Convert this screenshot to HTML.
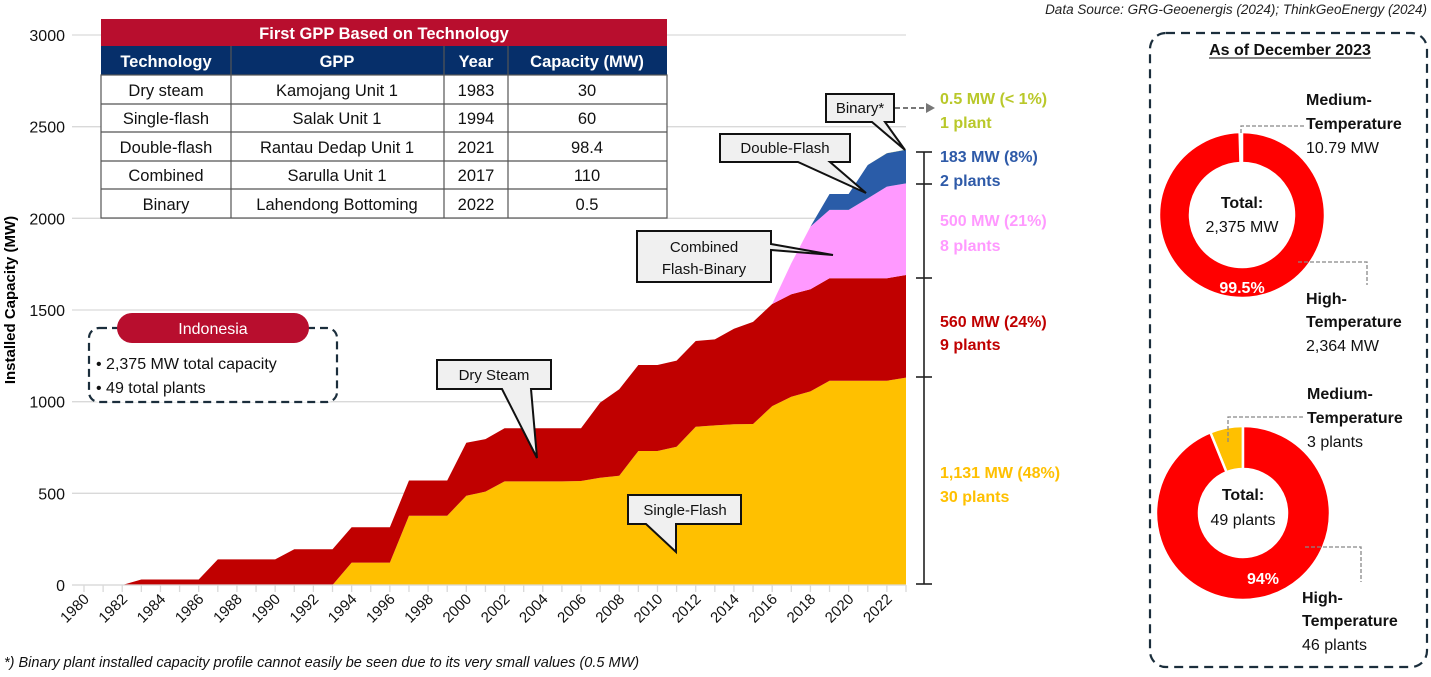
<!DOCTYPE html>
<html><head><meta charset="utf-8"><style>
body{margin:0;background:#fff;width:1431px;height:672px;overflow:hidden;font-family:"Liberation Sans",sans-serif}
svg text{font-family:"Liberation Sans",sans-serif}
</style></head><body>
<svg id="chart" width="1431" height="672" xmlns="http://www.w3.org/2000/svg">
<text x="1427" y="14" text-anchor="end" font-size="13.5" font-style="italic" fill="#222">Data Source: GRG-Geoenergis (2024); ThinkGeoEnergy (2024)</text>
<text x="4" y="667" font-size="14.5" font-style="italic" fill="#111">*) Binary plant installed capacity profile cannot easily be seen due to its very small values (0.5 MW)</text>
<text transform="translate(15,300) rotate(-90)" text-anchor="middle" font-size="15" font-weight="bold" fill="#000">Installed Capacity (MW)</text>
<g id="grid"></g><g id="areas"></g><g id="xaxis"></g><g id="yaxis"></g>
<g stroke="#222" stroke-width="1.6">
<line x1="924" y1="152" x2="924" y2="584"/><line x1="916" y1="152" x2="932" y2="152"/><line x1="916" y1="184" x2="932" y2="184"/><line x1="916" y1="278" x2="932" y2="278"/><line x1="916" y1="377" x2="932" y2="377"/><line x1="916" y1="584" x2="932" y2="584"/>
</g>
<g font-size="16" font-weight="bold">
<text x="940" y="104" fill="#b9c82a">0.5 MW (&lt; 1%)</text>
<text x="940" y="128" fill="#b9c82a">1 plant</text>
<text x="940" y="162" fill="#2e5aa8">183 MW (8%)</text>
<text x="940" y="186" fill="#2e5aa8">2 plants</text>
<text x="940" y="226" fill="#ff99ff">500 MW (21%)</text>
<text x="940" y="251" fill="#ff99ff">8 plants</text>
<text x="940" y="327" fill="#c00000">560 MW (24%)</text>
<text x="940" y="350" fill="#c00000">9 plants</text>
<text x="940" y="478" fill="#ffc000">1,131 MW (48%)</text>
<text x="940" y="502" fill="#ffc000">30 plants</text>
</g>
<g stroke="#777" stroke-width="2" stroke-dasharray="5,3" fill="none"><line x1="895" y1="108" x2="928" y2="108"/></g>
<polygon points="926,103 935,108 926,113" fill="#777"/>
<g fill="#f0f0f0" stroke="#111" stroke-width="2" font-size="15">
<g><path d="M826,94 H894 V122 H885 L905,150 L872,122 H826 Z"/><text x="860" y="113" text-anchor="middle" fill="#111" stroke="none">Binary*</text></g>
<g><path d="M720,134 H850 V162 H830 L866,193 L798,162 H720 Z"/><text x="785" y="153" text-anchor="middle" fill="#111" stroke="none">Double-Flash</text></g>
<g><path d="M637,231 H771 V244 L833,255 L771,250 V282 H637 Z"/><text x="704" y="252" text-anchor="middle" fill="#111" stroke="none">Combined</text><text x="704" y="274" text-anchor="middle" fill="#111" stroke="none">Flash-Binary</text></g>
<g><path d="M437,360 H551 V389 H531 L537,458 L502,389 H437 Z"/><text x="494" y="380" text-anchor="middle" fill="#111" stroke="none">Dry Steam</text></g>
<g><path d="M628,495 H741 V524 H676 L676,552 L646,524 H628 Z"/><text x="685" y="515" text-anchor="middle" fill="#111" stroke="none">Single-Flash</text></g>
</g>
<g>
<rect x="89" y="328" width="248" height="74" rx="10" fill="#fff" stroke="#1b2e3c" stroke-width="2.2" stroke-dasharray="8,5"/>
<rect x="117" y="313" width="192" height="30" rx="15" fill="#b80e2e"/>
<text x="213" y="334" text-anchor="middle" font-size="16" fill="#fff">Indonesia</text>
<text x="96" y="369" font-size="16" fill="#111">• 2,375 MW total capacity</text>
<text x="96" y="393" font-size="16" fill="#111">• 49 total plants</text>
</g>
<g font-size="16.5">
<rect x="101" y="19" width="566" height="27" fill="#b80e2e"/>
<text x="384" y="39" text-anchor="middle" font-weight="bold" fill="#fff">First GPP Based on Technology</text>
<rect x="101" y="46" width="566" height="29" fill="#062f6a"/>
<g font-weight="bold" fill="#fff" text-anchor="middle">
<text x="166" y="67">Technology</text><text x="337" y="67">GPP</text><text x="476" y="67">Year</text><text x="587" y="67">Capacity (MW)</text></g>
<rect x="101" y="75" width="566" height="143" fill="#fff" stroke="#555" stroke-width="1.2"/>
<g stroke="#555" stroke-width="1.2"><line x1="101" y1="104" x2="667" y2="104"/><line x1="101" y1="132" x2="667" y2="132"/><line x1="101" y1="161" x2="667" y2="161"/><line x1="101" y1="189" x2="667" y2="189"/>
<line x1="231" y1="46" x2="231" y2="218"/><line x1="444" y1="46" x2="444" y2="218"/><line x1="508" y1="46" x2="508" y2="218"/></g>
<g fill="#111" text-anchor="middle">
<text x="166" y="96">Dry steam</text><text x="337" y="96">Kamojang Unit 1</text><text x="476" y="96">1983</text><text x="587" y="96">30</text>
<text x="166" y="124">Single-flash</text><text x="337" y="124">Salak Unit 1</text><text x="476" y="124">1994</text><text x="587" y="124">60</text>
<text x="166" y="153">Double-flash</text><text x="337" y="153">Rantau Dedap Unit 1</text><text x="476" y="153">2021</text><text x="587" y="153">98.4</text>
<text x="166" y="181">Combined</text><text x="337" y="181">Sarulla Unit 1</text><text x="476" y="181">2017</text><text x="587" y="181">110</text>
<text x="166" y="210">Binary</text><text x="337" y="210">Lahendong Bottoming</text><text x="476" y="210">2022</text><text x="587" y="210">0.5</text>
</g></g>
<g>
<rect x="1150" y="33" width="277" height="634" rx="16" fill="none" stroke="#1b2e3c" stroke-width="2.2" stroke-dasharray="9,6"/>
<text x="1290" y="55" text-anchor="middle" font-size="16" font-weight="bold" fill="#111">As of December 2023</text>
<line x1="1209" y1="58" x2="1371" y2="58" stroke="#111" stroke-width="1"/>
<g id="donuts"></g>
<g stroke="#888" stroke-width="1.3" stroke-dasharray="4,2" fill="none">
<path d="M1241,133 V126 H1305"/><path d="M1298,262 H1367 V285"/>
<path d="M1228,442 V417 H1305"/><path d="M1305,547 H1361 V582"/></g>
<g font-size="16" fill="#111">
<text x="1306" y="105" font-weight="bold">Medium-</text><text x="1306" y="129" font-weight="bold">Temperature</text><text x="1306" y="153">10.79 MW</text>
<text x="1306" y="304" font-weight="bold">High-</text><text x="1306" y="327" font-weight="bold">Temperature</text><text x="1306" y="351">2,364 MW</text>
<text x="1307" y="399" font-weight="bold">Medium-</text><text x="1307" y="423" font-weight="bold">Temperature</text><text x="1307" y="447">3 plants</text>
<text x="1302" y="603" font-weight="bold">High-</text><text x="1302" y="626" font-weight="bold">Temperature</text><text x="1302" y="650">46 plants</text>
</g>
<text x="1242" y="208" text-anchor="middle" font-size="16" font-weight="bold" fill="#111">Total:</text>
<text x="1242" y="232" text-anchor="middle" font-size="16" fill="#111">2,375 MW</text>
<text x="1242" y="293" text-anchor="middle" font-size="16" font-weight="bold" fill="#fff">99.5%</text>
<text x="1243" y="500" text-anchor="middle" font-size="16" font-weight="bold" fill="#111">Total:</text>
<text x="1243" y="525" text-anchor="middle" font-size="16" fill="#111">49 plants</text>
<text x="1263" y="584" text-anchor="middle" font-size="16" font-weight="bold" fill="#fff">94%</text>
</g>
</svg>
<script>
const years=[1980,1981,1982,1983,1984,1985,1986,1987,1988,1989,1990,1991,1992,1993,1994,1995,1996,1997,1998,1999,2000,2001,2002,2003,2004,2005,2006,2007,2008,2009,2010,2011,2012,2013,2014,2015,2016,2017,2018,2019,2020,2021,2022,2023];
const singleFlash=[0,0,0,0,0,0,0,0,0,0,0,0,0,0,122,122,122,378,378,378,487,509,565,565,565,565,567,585,596,731,731,754,863,871,877,878,976,1027,1056,1114,1114,1114,1114,1131];
const drySteam=[0,0,0,30,30,30,30,140,140,140,140,195,195,195,193,193,193,192,192,192,289,287,290,290,290,290,288,410,472,469,469,470,468,469,521,557,557,559,557,559,559,559,559,560];
const combined=[0,0,0,0,0,0,0,0,0,0,0,0,0,0,0,0,0,0,0,0,0,0,0,0,0,0,0,0,0,0,0,0,0,0,0,0,0,169,342,373,373,436,500,500];
const doubleFlash=[0,0,0,0,0,0,0,0,0,0,0,0,0,0,0,0,0,0,0,0,0,0,0,0,0,0,0,0,0,0,0,0,0,0,0,0,0,0,0,87,87,182,182,183];
const binary=[0,0,0,0,0,0,0,0,0,0,0,0,0,0,0,0,0,0,0,0,0,0,0,0,0,0,0,0,0,0,0,0,0,0,0,0,0,0,0,0,0,0,0.5,0.5];
const yTicks=[0,500,1000,1500,2000,2500,3000];
const capacitySlices=[10.79,2364];
const plantSlices=[3,46];
const NS='http://www.w3.org/2000/svg';
const xS=y=>84+(y-1980)*(906-84)/43;
const yS=v=>585-v*(550/3000);
function mk(t,a,p){const e=document.createElementNS(NS,t);for(const k in a)e.setAttribute(k,a[k]);p.appendChild(e);return e;}
const grid=document.getElementById('grid'),yax=document.getElementById('yaxis'),xax=document.getElementById('xaxis'),areas=document.getElementById('areas');
yTicks.forEach(t=>{
 const l=mk('line',{x1:72,x2:906,y1:yS(t),y2:yS(t),stroke:'#d9d9d9','stroke-width':1.3},grid);
 
 
 const tx=mk('text',{x:65,y:yS(t)+6,'text-anchor':'end','font-size':16,fill:'#111'},yax);tx.textContent=t;
 
 
});
const series=[[singleFlash,'#ffc000','single-flash-area'],[drySteam,'#c00000','dry-steam-area'],[combined,'#ff99ff','combined-area'],[doubleFlash,'#2a5ca8','double-flash-area'],[binary,'#c3d12c','binary-area']];
let base=years.map(()=>0);
series.forEach(([vals,col,name])=>{
 const top=base.map((b,i)=>b+vals[i]);
 let d='M'+years.map((y,i)=>xS(y)+','+yS(top[i])).join(' L');
 for(let i=years.length-1;i>=0;i--)d+=' L'+xS(years[i])+','+yS(base[i]);
 const p=mk('path',{d:d+'Z',fill:col},areas);
 
 
 base=top;
});
mk('line',{x1:72,x2:906,y1:585,y2:585,stroke:'#d9d9d9','stroke-width':1.3},xax);
years.forEach(y=>{
 mk('line',{x1:xS(y),x2:xS(y),y1:585,y2:592,stroke:'#d9d9d9','stroke-width':1.3},xax);
 if(y%2===0&&y<=2022){
  const t=mk('text',{transform:`translate(${xS(y)+6},${600}) rotate(-45)`,'text-anchor':'end','font-size':15,fill:'#111'},xax);
  t.textContent=y;
  
  
 }
});
const dn=document.getElementById('donuts');
function donut(vals,cx,cy,ro,ri,cols,name){
 const tot=vals.reduce((a,b)=>a+b,0);let a0=-Math.PI/2;
 vals.forEach((v,i)=>{
  const a1=a0-v/tot*2*Math.PI;
  const big=(a0-a1)>Math.PI?1:0;
  const P=(r,a)=>(cx+r*Math.cos(a))+','+(cy+r*Math.sin(a));
  const d=`M${P(ro,a0)} A${ro},${ro} 0 ${big} 0 ${P(ro,a1)} L${P(ri,a1)} A${ri},${ri} 0 ${big} 1 ${P(ri,a0)} Z`;
  const p=mk('path',{d:d,fill:cols[i],stroke:'#fff','stroke-width':2.5},dn);
  
  
  a0=a1;
 });
}
donut(capacitySlices,1242,215,83,52,['#ffc000','#ff0000'],'capacity-donut');
donut(plantSlices,1243,513,87,44,['#ffc000','#ff0000'],'plants-donut');
</script>
</body></html>
